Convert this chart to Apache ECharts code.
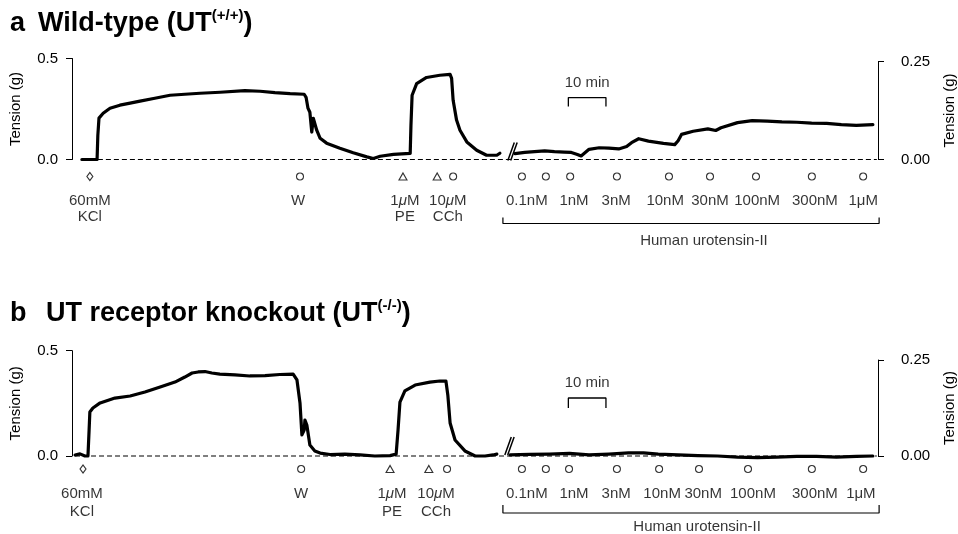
<!DOCTYPE html>
<html><head><meta charset="utf-8">
<script src="https://cdn.jsdelivr.net/npm/echarts@6/dist/echarts.min.js"></script>
<style>html,body{margin:0;padding:0;background:#fff}#c{width:958px;height:534px}</style>
</head><body><div id="c"></div>
<script>
// ---------------- DATA (time in min, tension in g) ----------------
// Panel a: Wild-type (UT+/+)
const tLeftA = [2.6,6.6,6.8,7.1,8.2,10.0,12.6,15.3,17.9,21.8,25.8,29.7,33.7,39.0,45.5,49.5,53.4,57.4,61.1,61.6,62.1,62.6,63.1,63.5,64.4,65.3,67.0,70.5,74.0,77.6,79.3,81.1,84.6,89.0,89.2,89.5,90.7,93.3,96.8,99.5,99.9,100.3,101.2,102.1,103.9,106.5,109.1,111.8,112.6];
const vLeftA = [0,0,0.120,0.205,0.229,0.254,0.269,0.279,0.289,0.303,0.318,0.323,0.328,0.333,0.341,0.338,0.331,0.326,0.323,0.308,0.254,0.234,0.136,0.204,0.145,0.105,0.081,0.056,0.033,0.013,0.005,0.016,0.025,0.030,0.170,0.318,0.376,0.406,0.417,0.421,0.402,0.293,0.195,0.145,0.087,0.046,0.021,0.021,0.031];
const tRightA = [116.6,119.2,121.8,124.5,127.1,129.7,131.6,133.2,134.2,136.3,139.0,141.6,144.2,146.3,147.6,149.5,152.1,156.1,159.1,160.0,160.9,164.0,167.9,170.0,170.5,171.4,175.8,179.7,183.7,187.6,191.6,195.5,199.5,203.4,207.4,211.8];
const vRightA = [0.015,0.018,0.020,0.022,0.020,0.019,0.018,0.013,0.009,0.026,0.030,0.029,0.027,0.033,0.043,0.053,0.047,0.041,0.038,0.048,0.064,0.072,0.078,0.074,0.070,0.081,0.094,0.099,0.098,0.096,0.095,0.093,0.092,0.089,0.087,0.089];
const eventTimesA = [4.7,60.0,87.1,96.1,100.3,118.4,124.7,131.1,143.4,157.1,167.9,180.0,194.7,208.2];
const labelTimesA = [4.7,59.5,87.6,98.9,119.7,132.1,143.2,156.1,167.9,180.3,195.5,208.2];

// Panel b: UT receptor knockout (UT-/-)
const tLeftB = [0.8,2.1,3.4,4.2,4.5,4.7,5.5,7.4,11.3,15.3,19.2,23.2,27.1,29.7,31.6,33.2,35.0,36.8,38.9,42.9,46.8,50.8,54.7,58.2,59.2,60.0,60.5,61.1,61.3,61.8,62.6,63.9,65.3,67.9,71.8,75.8,79.7,83.7,85.3,85.8,86.3,87.6,90.3,94.2,96.8,98.4,98.9,99.5,100.8,103.4,106.1,108.7,110.8,111.8];
const vLeftB = [0.005,0.010,0,0,0.123,0.209,0.228,0.252,0.275,0.285,0.304,0.328,0.351,0.375,0.394,0.399,0.401,0.394,0.389,0.385,0.380,0.382,0.387,0.389,0.361,0.252,0.100,0.123,0.171,0.147,0.052,0.024,0.014,0.007,0.009,0.005,0,0.002,0.009,0.123,0.256,0.309,0.337,0.351,0.356,0.356,0.290,0.157,0.076,0.024,0,0,0.005,0.009];
const tRightB = [115.3,120.5,125.8,131.1,136.3,141.6,146.8,150.8,154.7,160.0,165.3,170.5,175.8,181.1,186.3,191.6,196.8,202.1,207.4,211.8];
const vRightB = [0.003,0.004,0.005,0.007,0.003,0.005,0.008,0.008,0.005,0.003,0.001,0,-0.003,-0.004,-0.003,-0.001,-0.001,-0.003,-0.001,0];
const eventTimesB = [2.9,60.3,83.7,93.9,98.7,118.4,124.7,130.8,143.4,154.5,165.0,177.9,194.7,208.2];
const labelTimesB = [2.6,60.3,84.2,95.8,119.7,132.1,143.2,155.3,166.1,179.2,195.5,207.6];

// Shared
const eventKinds = ['diamond','circle','triangle','triangle','circle','circle','circle','circle','circle','circle','circle','circle','circle','circle'];
const labelTexts = ['60mM\nKCl','W','1μM\nPE','10μM\nCCh','0.1nM','1nM','3nM','10nM','30nM','100nM','300nM','1μM'];
const leftTicks = [0, 0.5];
const rightTicks = [0, 0.25];
const uiiRange = [113.4, 212.4];
const scaleBarStart = 130.8, scaleBarMinutes = 10;
const TOTAL = 213.16;

// ---------------- LAYOUT / STYLE ----------------
const FONT = "'Liberation Sans', Arial, Helvetica, sans-serif";
const BREAK = TOTAL * 433 / 810;
const panels = [
  {letter:'a', title:'Wild-type (UT', sup:'(+/+)', titleTop:8, titleLeft:38,
   tl:tLeftA, vl:vLeftA, tr:tRightA, vr:vRightA, ev:eventTimesA, lt:labelTimesA,
   leftTop:58.5, leftH:101, rightTop:61.5, rightH:98, annoTop:159.5, annoH:90,
   base:[2.6,211.8], brk:114.7, brkY:[1,-17], uiiText:166.3,
   rows:{marker:17, labelTop:33, lh:16, bracketY:64, tipY:58, text:81},
   bar:{top:0.158, end:0.135, text:0.196}},
  {letter:'b', title:'UT receptor knockout (UT', sup:'(-/-)', titleTop:298, titleLeft:46,
   tl:tLeftB, vl:vLeftB, tr:tRightB, vr:vRightB, ev:eventTimesB, lt:labelTimesB,
   leftTop:350.7, leftH:105.3, rightTop:360, rightH:96, annoTop:456, annoH:78,
   base:[0.8,211.8], brk:113.9, brkY:[-1,-19], uiiText:164.5,
   rows:{marker:13, labelTop:29, lh:18, bracketY:57, tipY:49, text:71},
   bar:{top:0.151, end:0.125, text:0.19}}
];

const option = {animation:false, backgroundColor:'#fff', textStyle:{fontFamily:FONT, color:'#000'},
  title:[], grid:[], xAxis:[], yAxis:[], series:[]};

const zip = (a,b) => a.map((x,i)=>[x,b[i]]);
const black = '#000';

panels.forEach((p, i) => {
  const gL = 3*i, gR = 3*i+1, gA = 3*i+2;
  option.title.push({text:p.letter, left:10, top:p.titleTop, padding:0,
    textStyle:{fontSize:27, fontWeight:'bold', color:black, lineHeight:31, fontFamily:FONT}});
  option.title.push({text:p.title + '{sup|' + p.sup + '})', left:p.titleLeft, top:p.titleTop, padding:0,
    textStyle:{fontSize:27, fontWeight:'bold', color:black, lineHeight:31, fontFamily:FONT,
      rich:{sup:{fontSize:15, fontWeight:'bold', color:black, lineHeight:18, verticalAlign:'top', fontFamily:FONT}}}});

  option.grid.push({left:72, top:p.leftTop, width:433, height:p.leftH});
  option.grid.push({left:505, top:p.rightTop, width:377, height:p.rightH});
  option.grid.push({left:72, top:p.annoTop, width:810, height:p.annoH});

  option.xAxis.push({gridIndex:gL, type:'value', min:0, max:BREAK, show:false});
  option.xAxis.push({gridIndex:gR, type:'value', min:BREAK, max:TOTAL, show:false});
  option.xAxis.push({gridIndex:gA, type:'value', min:0, max:TOTAL, show:false});

  const axName = {name:'Tension (g)', nameLocation:'middle', nameRotate:90,
    nameTextStyle:{color:black, fontSize:15, fontFamily:FONT}};
  option.yAxis.push(Object.assign({gridIndex:gL, type:'value', min:leftTicks[0], max:leftTicks[1],
    interval:leftTicks[1]-leftTicks[0], position:'left',
    axisLine:{show:true, onZero:false, lineStyle:{color:black, width:1}},
    axisTick:{show:true, length:6, lineStyle:{color:black, width:1}},
    axisLabel:{color:black, fontSize:15, margin:14, fontFamily:FONT, formatter:v=>v.toFixed(1)},
    splitLine:{show:false}, nameGap:49}, axName));
  option.yAxis.push(Object.assign({gridIndex:gR, type:'value', min:rightTicks[0], max:rightTicks[1],
    interval:rightTicks[1]-rightTicks[0], position:'right',
    axisLine:{show:true, onZero:false, lineStyle:{color:black, width:1}},
    axisTick:{show:true, length:6, lineStyle:{color:black, width:1}},
    axisLabel:{color:black, fontSize:15, margin:23, fontFamily:FONT, formatter:v=>v.toFixed(2)},
    splitLine:{show:false}, nameGap:64}, axName));
  option.yAxis.push({gridIndex:gA, type:'value', min:0, max:p.annoH, inverse:true, show:false});

  const lineBase = {type:'line', showSymbol:false, symbol:'none', clip:false, silent:true};
  // dashed baseline
  option.series.push(Object.assign({}, lineBase, {xAxisIndex:gA, yAxisIndex:gA, z:1,
    data:[[p.base[0],0],[p.base[1],0]], lineStyle:{color:black, width:1.2, type:[5,3]}}));
  // traces
  option.series.push(Object.assign({}, lineBase, {xAxisIndex:gL, yAxisIndex:gL, z:5,
    data:zip(p.tl,p.vl), lineStyle:{color:black, width:3.2, join:'round', cap:'round'}}));
  option.series.push(Object.assign({}, lineBase, {xAxisIndex:gR, yAxisIndex:gR, z:5,
    data:zip(p.tr,p.vr), lineStyle:{color:black, width:3.2, join:'round', cap:'round'}}));
  // break marks "//"
  [0, 0.75].forEach(off => {
    option.series.push(Object.assign({}, lineBase, {xAxisIndex:gA, yAxisIndex:gA, z:6,
      data:[[p.brk+off, p.brkY[0]],[p.brk+off+1.7, p.brkY[1]]], lineStyle:{color:black, width:1.5}}));
  });
  // 10 min scale bar
  option.series.push(Object.assign({}, lineBase, {xAxisIndex:gR, yAxisIndex:gR, z:4,
    data:[[scaleBarStart,p.bar.end],[scaleBarStart,p.bar.top],[scaleBarStart+scaleBarMinutes,p.bar.top],[scaleBarStart+scaleBarMinutes,p.bar.end]],
    lineStyle:{color:black, width:1.3}}));
  option.series.push({type:'scatter', xAxisIndex:gR, yAxisIndex:gR, symbolSize:1, silent:true,
    itemStyle:{color:'rgba(0,0,0,0)'}, data:[[scaleBarStart+scaleBarMinutes/2, p.bar.text]],
    label:{show:true, position:'inside', formatter:'10 min', color:black, fontSize:15, fontFamily:FONT}});
  // UII bracket
  option.series.push(Object.assign({}, lineBase, {xAxisIndex:gA, yAxisIndex:gA, z:4,
    data:[[uiiRange[0],p.rows.tipY],[uiiRange[0],p.rows.bracketY],[uiiRange[1],p.rows.bracketY],[uiiRange[1],p.rows.tipY]],
    lineStyle:{color:black, width:1.2}}));
  option.series.push({type:'scatter', xAxisIndex:gA, yAxisIndex:gA, symbolSize:1, silent:true,
    itemStyle:{color:'rgba(0,0,0,0)'}, data:[[p.uiiText, p.rows.text]],
    label:{show:true, position:'inside', formatter:'Human urotensin-II', color:black, fontSize:15, fontFamily:FONT}});
  // event markers
  option.series.push({type:'scatter', xAxisIndex:gA, yAxisIndex:gA, silent:true, z:4,
    data:p.ev.map((t,k)=>({value:[t,p.rows.marker], symbol:eventKinds[k],
      symbolSize: eventKinds[k]==='diamond' ? [6,8] : (eventKinds[k]==='triangle' ? [8,7] : 7)})),
    itemStyle:{color:'#fff', borderColor:black, borderWidth:1.1}});
  // event labels
  option.series.push({type:'scatter', xAxisIndex:gA, yAxisIndex:gA, symbolSize:1, silent:true,
    itemStyle:{color:'rgba(0,0,0,0)'},
    data:p.lt.map((t,k)=>({value:[t,p.rows.labelTop], txt:labelTexts[k]})),
    label:{show:true, position:'inside', verticalAlign:'top', align:'center', color:black, fontSize:15,
      lineHeight:p.rows.lh, fontFamily:FONT,
      formatter: prm => { const s = prm.data.txt; return s.indexOf('\n')>=0 ? s.replace('μ','{it|μ}') : s; },
      rich:{it:{fontStyle:'italic', fontSize:15, lineHeight:p.rows.lh, color:black, fontFamily:FONT}}}});
});

const chart = echarts.init(document.getElementById('c'), null, {renderer:'canvas'});
chart.setOption(option);
</script></body></html>
